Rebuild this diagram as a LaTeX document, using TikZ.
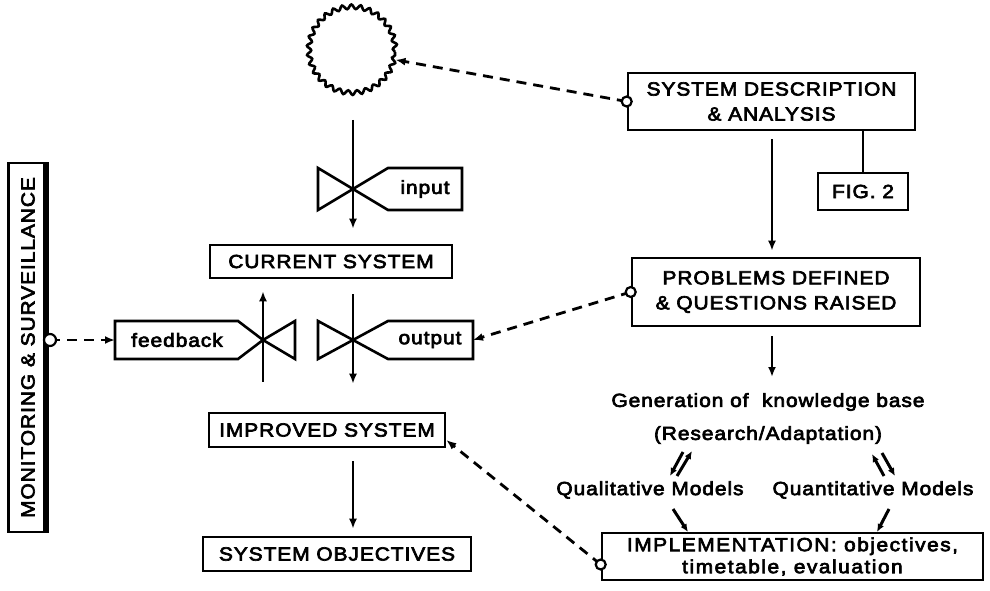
\documentclass[tikz,border=0pt]{standalone}
\usepackage{fontspec}
\setmainfont{Liberation Sans}[FakeStretch=1.1, LetterSpace=5, FakeBold=3.5]
\usetikzlibrary{arrows.meta, decorations.pathmorphing, calc}
\begin{document}
\begin{tikzpicture}[x=1pt,y=-1pt,
  box/.style={draw, line width=2.6pt, rectangle, inner sep=0pt, align=center, font=\fontsize{19}{25}\selectfont},
  lbl/.style={font=\fontsize{19}{25}\selectfont, inner sep=0pt},
  arr/.style={line width=2.4pt, -{Latex[length=10pt,width=8pt]}},
  sarr/.style={line width=3pt, -{Latex[length=8pt,width=7pt]}},
  darr/.style={arr, line width=2.8pt, dash pattern=on 10pt off 7pt},
  port/.style={circle, draw, fill=white, line width=2.2pt, inner sep=0pt, minimum size=10pt},
  valve/.style={draw, line width=2.6pt, line join=miter},
]
\useasboundingbox (0,0) rectangle (990,591);

% boxes
\node[box, minimum width=287pt, minimum height=57pt] (sda) at (771.5,101.5) {SYSTEM DESCRIPTION\\\& ANALYSIS};
\node[box, minimum width=90pt, minimum height=37pt] (fig) at (863,191.5) {FIG. 2};
\node[box, minimum width=288pt, minimum height=68pt] (prob) at (776,292) {PROBLEMS DEFINED\\\& QUESTIONS RAISED};
\node[lbl] (gen) at (768,402) {Generation of\ \ knowledge base};
\node[lbl] (res) at (768,435) {(Research/Adaptation)};
\node[lbl] (qual) at (650,490) {Qualitative Models};
\node[lbl] (quant) at (873,490) {Quantitative Models};
\node[box, minimum width=381pt, minimum height=47pt, font=\fontsize{19}{22}\selectfont\addfontfeatures{LetterSpace=8}] (impl) at (792.5,556.5) {IMPLEMENTATION: objectives,\\timetable, evaluation};
\node[box, minimum width=242pt, minimum height=33pt] (cur) at (331,261.5) {CURRENT SYSTEM};
\node[box, minimum width=236pt, minimum height=34pt] (imp) at (327,430) {IMPROVED SYSTEM};
\node[box, minimum width=268pt, minimum height=34pt] (obj) at (337,554) {SYSTEM OBJECTIVES};

% monitoring bar
\node[draw, line width=2.2pt, rotate=90, minimum width=369pt, minimum height=39pt, inner sep=0pt, font=\fontsize{19}{25}\selectfont] (mon) at (28,347.5) {MONITORING \& SURVEILLANCE};
\draw[line width=6pt] (46,163) -- (46,532);

% wavy circle
\node[circle, minimum size=88pt, inner sep=0pt] (blob) at (352,52) {};
\draw[line width=2.6pt, decorate, decoration={snake, amplitude=2.2pt, segment length=9.01pt}] (blob.center) circle (43pt);

% valves
\coordinate (vin) at (353,189);
\draw[valve] (vin) -- (318,168) -- (318,210) -- cycle;
\draw[valve] (vin) -- (388,168) -- (462,168) -- (462,210) -- (388,210) -- cycle;
\node[lbl] (inl) at (425,189) {input};

\coordinate (vout) at (353,340);
\draw[valve] (vout) -- (318,321) -- (318,359) -- cycle;
\draw[valve] (vout) -- (388,321) -- (473,321) -- (473,359) -- (388,359) -- cycle;
\node[lbl] (outl) at (430,340) {output};
\coordinate (outR) at (473,340);

\coordinate (vfb) at (263,340);
\draw[valve] (vfb) -- (295,321) -- (295,359) -- cycle;
\draw[valve] (vfb) -- (238,321) -- (115,321) -- (115,359) -- (238,359) -- cycle;
\node[lbl] (fbl) at (177,340) {feedback};
\coordinate (fbL) at (115,340);

% vertical flows
\coordinate (inTop) at (353,120);
\draw[arr, shorten >=15pt] (inTop) -- (inTop |- cur.north);
\draw[arr, shorten <=15pt, shorten >=28pt] (vout |- cur.south) -- (vout |- imp.north);
\draw[arr, shorten <=30pt, shorten >=12pt] (vfb |- imp.north) -- (vfb |- cur.south);
\draw[arr, shorten <=13pt, shorten >=7pt] (vout |- imp.south) -- (vout |- obj.north);

% right column
\coordinate (sdax) at (772,0);
\draw[arr, shorten <=8pt, shorten >=6pt] (sda.south -| sdax) -- (prob.north -| sdax);
\draw[line width=2.6pt] (fig.north) -- (fig.north |- sda.south);
\coordinate (genTip) at (772,377);
\draw[arr, shorten <=9pt] (prob.south -| sdax) -- (genTip);

% double arrows
\coordinate (l1a) at (683,452); \coordinate (l1b) at (670,476);
\coordinate (l2a) at (677,476); \coordinate (l2b) at (692,451);
\coordinate (r1a) at (884,476); \coordinate (r1b) at (872,454);
\coordinate (r2a) at (882,453); \coordinate (r2b) at (895,476);
\draw[sarr] (l1a) -- (l1b);
\draw[sarr] (l2a) -- (l2b);
\draw[sarr] (r1a) -- (r1b);
\draw[sarr] (r2a) -- (r2b);

\coordinate (qa) at (673,509); \coordinate (qb) at (688,532);
\coordinate (ta) at (889,509); \coordinate (tb) at (877,532);
\draw[sarr] (qa) -- (qb);
\draw[sarr] (ta) -- (tb);

% dashed connectors
\draw[darr] (sda.west) -- (blob);
\node[port] at (sda.west) {};
\draw[darr] (prob.west) -- (outR);
\node[port] at (prob.west) {};
\coordinate (implP) at ($(impl.west)+(0,8)$);
\draw[darr] (implP) -- ([yshift=-10pt]imp.east);
\node[port] at (implP) {};
\coordinate (monP) at (50,340);
\draw[darr] (monP) -- (fbL);
\node[port, minimum size=12pt] at (monP) {};
\end{tikzpicture}
\end{document}
